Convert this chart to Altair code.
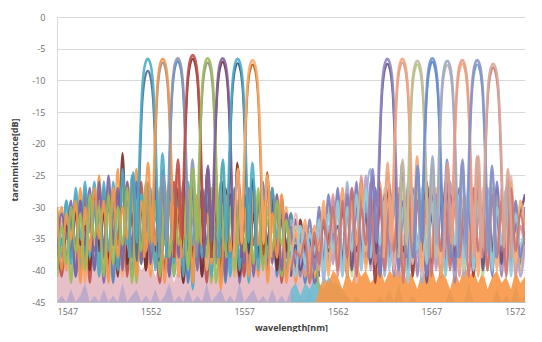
import altair as alt
import pandas as pd

# ---------------- axis ticks ----------------
X_TICKS = [1547, 1552, 1557, 1562, 1567, 1572]
Y_TICKS = [0, -5, -10, -15, -20, -25, -30, -35, -40, -45]

# ---------------- channel passbands ----------------
LEFT_CENTERS = [1551.85, 1552.65, 1553.45, 1554.25, 1555.05, 1555.85, 1556.65, 1557.45]
RIGHT_CENTERS = [1564.65, 1565.45, 1566.25, 1567.05, 1567.85, 1568.65, 1569.45, 1570.3]
LEFT_PEAKS = [-6.6, -6.6, -6.5, -6.0, -6.5, -6.5, -6.6, -6.8]
LEFT_PEAKS_2 = [-8.5, -7.2, -7.0, -6.6, -7.2, -7.1, -7.3, -7.5]
RIGHT_PEAKS = [-6.6, -6.6, -6.9, -6.5, -6.9, -6.8, -6.8, -7.4]
RIGHT_PEAKS_2 = [-7.4, -7.2, -7.5, -7.1, -7.6, -7.4, -7.5, -8.0]
MAIN_OFFSETS = [-0.58, -0.5, -0.43, -0.36, -0.28, -0.19, -0.1, 0.0, 0.1, 0.19, 0.28, 0.36, 0.43, 0.5, 0.58]
MAIN_DROP = [29, 21, 14, 8.5, 3.9, 1.5, 0.4, 0, 0.4, 1.5, 3.9, 8.5, 14, 21, 29]
MAIN_DROP_2 = [30, 23, 16, 9.5, 4.5, 1.8, 0.5, 0, 0.5, 1.8, 4.5, 9.5, 16, 23, 30]
SIDE_L_OFFSETS = [-1.0, -0.78]
SIDE_R_OFFSETS = [0.78, 1.0]
EDGE_DB = -38
LEFT_SL_L = [-24.5, -23, -25, -22.5, -24, -23.5, -22.5, -24]
LEFT_SL_R = [-21.5, -24, -22.5, -25, -23, -24.5, -23, -25]
LEFT_SL2_L = [-25, -26, -24, -27, -25.5, -24, -26, -23.5]
LEFT_SL2_R = [-26, -24.5, -27, -24, -26, -23, -25.5, -24.5]
RIGHT_SL_L = [-24, -23, -22.5, -23.5, -22, -23, -22.5, -22]
RIGHT_SL_R = [-23, -22, -23.5, -22.5, -23, -22, -23.5, -24]
RIGHT_SL2_L = [-25, -24.5, -26, -24, -25.5, -24, -25, -24.5]
RIGHT_SL2_R = [-24.5, -25.5, -24, -26, -24.5, -25, -24, -25.5]

LEFT_COLORS = ["#4BACC6", "#F79646", "#8797B2", "#C0504D", "#9BBB59", "#8064A2", "#4BACC6", "#F9AB6B"]
LEFT_COLORS_2 = ["#4F6D8F", "#7F8FA6", "#4F81BD", "#772C2A", "#8C8C8C", "#772C2A", "#2C4D75", "#B65708"]
RIGHT_COLORS = ["#8E86C2", "#F2A47A", "#C4B99A", "#6F8FCF", "#A0A8C0", "#E89A8A", "#8A94C8", "#D6A89A"]
RIGHT_COLORS_2 = ["#664F83", "#D99694", "#AFC97A", "#4F81BD", "#B7B7B7", "#F9AB6B", "#729ACA", "#CD7371"]

# ---------------- out-of-band ripple (left: 1547.00..1561.00, right: 1559.50..1572.00, 0.25 nm) ----------------
LEFT_GRID = [round(1547.0 + 0.25 * i, 2) for i in range(57)]
RIGHT_GRID = [round(1559.5 + 0.25 * i, 2) for i in range(51)]

NL1 = [-31, -38, -29, -36, -28, -40, -27, -34, -26, -39,
       -28, -41, -26, -35, -27, -40, -25, -31, -39, -29,
       -40, -27, -37, -30, -28, -41, -31, -38, -27, -43,
       -30, -37, -28, -40, -33, -36, -29, -41, -32, -38,
       -30, -42, -28, -37, -31, -39, -29, -36, -32, -40,
       -33, -38, -34, -41, -36, -40, -38]
NL2 = [-36, -30, -39, -31, -37, -27, -41, -29, -36, -25,
       -40, -27, -37, -24, -39, -26, -33, -24, -38, -30,
       -41, -28, -37, -26, -40, -29, -33, -38, -29, -42,
       -32, -39, -27, -36, -30, -43, -31, -37, -28, -40,
       -33, -38, -29, -41, -30, -36, -32, -39, -28, -37,
       -31, -42, -33, -39, -35, -41, -37]
NL3 = [-34, -41, -32, -37, -30, -38, -28, -42, -30, -36,
       -27, -39, -30, -36, -25, -41, -28, -37, -26, -40,
       -29, -35, -42, -28, -38, -26, -41, -30, -36, -27,
       -38, -31, -42, -29, -37, -31, -40, -28, -38, -33,
       -41, -29, -36, -30, -39, -27, -38, -30, -42, -31,
       -36, -33, -40, -35, -39, -37, -41]
NL4 = [-38, -33, -40, -30, -36, -29, -39, -31, -37, -28,
       -42, -29, -35, -27, -40, -30, -36, -26, -39, -28,
       -37, -27, -40, -33, -27, -39, -29, -42, -27, -37,
       -30, -41, -26, -36, -29, -41, -30, -38, -27, -42,
       -32, -39, -29, -37, -31, -40, -28, -39, -32, -38,
       -34, -40, -35, -39, -37, -42, -39]
NL5 = [-33, -37, -31, -42, -29, -38, -32, -36, -29, -41,
       -30, -37, -28, -40, -27, -36, -29, -42, -28, -35,
       -31, -39, -28, -36, -30, -41, -27, -37, -29, -40,
       -28, -38, -31, -42, -27, -37, -38, -30, -41, -29,
       -36, -31, -40, -28, -37, -32, -38, -30, -41, -33,
       -37, -35, -40, -36, -41, -38, -40]
NL6 = [-40, -35, -38, -32, -41, -30, -37, -29, -40, -31,
       -36, -30, -42, -28, -37, -29, -41, -30, -36, -27,
       -39, -31, -36, -28, -41, -30, -37, -29, -42, -31,
       -38, -27, -40, -30, -36, -28, -42, -29, -39, -33,
       -28, -40, -31, -37, -26, -39, -30, -41, -29, -36,
       -32, -39, -33, -42, -35, -38, -37]
NL7 = [-35, -40, -33, -38, -31, -36, -33, -40, -28, -37,
       -31, -38, -29, -41, -21.5, -39, -31, -36, -30, -40,
       -28, -37, -32, -40, -29, -36, -31, -42, -28, -38,
       -30, -41, -29, -37, -31, -40, -27, -38, -30, -41,
       -29, -37, -31, -38, -29, -36, -27, -40, -30, -37,
       -31, -40, -32, -38, -34, -39, -36]
NL8 = [-37, -32, -40, -34, -38, -31, -42, -30, -36, -29,
       -39, -31, -37, -29, -41, -30, -38, -32, -35, -28,
       -40, -30, -37, -29, -36, -31, -41, -28, -39, -30,
       -37, -28, -40, -31, -38, -30, -36, -29, -41, -27,
       -38, -29, -40, -31, -36, -28, -34, -28, -39, -30,
       -40, -32, -41, -33, -39, -35, -40]
NL9 = [-30, -36, -29, -39, -27, -35, -26, -38, -29, -41,
       -26, -37, -29, -40, -24, -36, -27, -39, -28, -34,
       -27, -40, -29, -35, -26, -39, -28, -41, -26, -36,
       -29, -38, -26, -41, -28, -35, -30, -39, -27, -40,
       -28, -37, -26, -40, -29, -38, -27, -35, -30, -41,
       -31, -38, -33, -40, -34, -39, -36]
NL10 = [-37, -31, -35, -29, -41, -29, -36, -27, -40, -26,
        -38, -25, -36, -28, -40, -26, -38, -27, -36, -29,
        -39, -26, -35, -29, -41, -27, -38, -26, -37, -28,
        -40, -27, -36, -29, -39, -26, -41, -28, -35, -30,
        -39, -27, -41, -29, -37, -26, -39, -28, -40, -31,
        -38, -32, -39, -34, -40, -36, -41]
NL11 = [-30, -40, -31, -35, -29, -42, -30, -37, -27, -35,
        -29, -42, -27, -38, -30, -35, -26, -41, -29, -37,
        -30, -36, -27, -42, -29, -38, -30, -35, -27, -40,
        -28, -36, -31, -39, -26, -42, -28, -37, -31, -36,
        -30, -41, -27, -36, -29, -42, -31, -38, -28, -42,
        -33, -37, -35, -41, -34, -38, -40]
NL12 = [-41, -33, -39, -30, -37, -31, -40, -28, -35, -30,
        -41, -28, -39, -30, -36, -27, -42, -30, -37, -26,
        -36, -29, -41, -27, -38, -30, -36, -28, -40, -29,
        -36, -30, -38, -27, -42, -29, -37, -30, -40, -28,
        -37, -30, -39, -27, -40, -30, -37, -29, -36, -32,
        -39, -34, -38, -37, -42, -38, -43]

NR1 = [-38, -35, -41, -36, -40, -34, -38, -31, -39, -29,
       -36, -28, -40, -27, -35, -29, -38, -26, -40, -28,
       -37, -29, -41, -27, -38, -30, -28, -41, -30, -37,
       -27, -39, -31, -36, -28, -42, -30, -37, -29, -40,
       -31, -38, -28, -36, -30, -41, -29, -37, -33, -39,
       -35]
NR2 = [-34, -40, -36, -41, -37, -33, -40, -30, -36, -28,
       -41, -27, -37, -30, -39, -25, -36, -29, -40, -27,
       -38, -26, -40, -29, -36, -27, -41, -28, -35, -27,
       -40, -29, -37, -26, -39, -30, -41, -28, -36, -27,
       -38, -30, -40, -28, -37, -31, -39, -29, -41, -33,
       -37]
NR3 = [-32, -37, -33, -40, -35, -38, -31, -42, -29, -37,
       -28, -39, -26, -36, -27, -40, -29, -24, -37, -28,
       -41, -30, -36, -28, -40, -26, -38, -29, -42, -27,
       -28, -38, -27, -40, -26, -37, -29, -41, -28, -36,
       -30, -39, -27, -38, -31, -36, -28, -40, -30, -37,
       -32]
NR4 = [-36, -39, -34, -37, -39, -36, -33, -38, -35, -31,
       -38, -30, -41, -28, -37, -26, -39, -30, -42, -29,
       -36, -27, -40, -31, -37, -29, -41, -28, -37, -26,
       -39, -28, -41, -27, -36, -39, -27, -37, -30, -41,
       -28, -36, -31, -40, -27, -38, -29, -37, -31, -39,
       -34]
NR5 = [-40, -33, -37, -35, -41, -37, -35, -40, -30, -38,
       -31, -37, -29, -41, -30, -38, -28, -36, -31, -40,
       -27, -38, -30, -36, -28, -41, -30, -37, -29, -40,
       -26, -39, -28, -41, -27, -36, -30, -40, -29, -37,
       -27, -41, -30, -38, -28, -36, -31, -39, -29, -40,
       -31]
NR6 = [-35, -38, -39, -33, -36, -40, -34, -37, -33, -39,
       -29, -41, -27, -38, -31, -36, -25, -40, -28, -37,
       -30, -39, -27, -41, -29, -36, -28, -38, -30, -37,
       -27, -40, -29, -37, -26, -41, -28, -38, -27, -40,
       -28, -39, -27, -36, -30, -40, -28, -38, -32, -41,
       -36]
NR7 = [-37, -31, -36, -38, -34, -39, -33, -36, -40, -32,
       -38, -32, -36, -29, -42, -30, -37, -28, -39, -26,
       -37, -29, -40, -28, -36, -31, -39, -27, -41, -30,
       -36, -28, -39, -30, -37, -27, -40, -29, -38, -28,
       -39, -27, -37, -30, -38, -27, -39, -25, -36, -30,
       -29]
NR8 = [-41, -36, -40, -37, -35, -38, -36, -33, -37, -35,
       -33, -38, -30, -40, -29, -37, -31, -39, -27, -41,
       -30, -38, -28, -36, -31, -40, -29, -37, -28, -42,
       -31, -37, -29, -40, -28, -38, -30, -36, -29, -39,
       -28, -40, -29, -37, -30, -39, -27, -36, -33, -31,
       -28]
NR9 = [-33, -39, -35, -38, -32, -40, -30, -39, -28, -36,
       -27, -40, -28, -37, -26, -39, -29, -36, -27, -41,
       -28, -37, -26, -40, -29, -38, -27, -36, -30, -41,
       -28, -37, -26, -39, -29, -40, -27, -36, -30, -39,
       -27, -38, -29, -41, -26, -37, -30, -39, -29, -38,
       -30]
NR10 = [-39, -34, -37, -32, -40, -33, -37, -29, -41, -30,
        -38, -27, -41, -29, -36, -26, -40, -28, -37, -26,
        -39, -28, -36, -27, -41, -29, -37, -26, -40, -28,
        -38, -27, -41, -29, -36, -26, -40, -28, -37, -27,
        -41, -29, -36, -27, -40, -28, -37, -26, -39, -29,
        -34]
NR11 = [-36, -41, -33, -39, -34, -37, -32, -40, -31, -37,
        -29, -41, -30, -37, -28, -40, -27, -38, -30, -36,
        -29, -40, -27, -37, -30, -42, -28, -37, -27, -39,
        -29, -38, -27, -41, -30, -36, -28, -39, -26, -40,
        -29, -37, -28, -40, -30, -36, -27, -41, -31, -36,
        -33]
NR12 = [-40, -37, -38, -35, -42, -34, -39, -32, -36, -30,
        -40, -29, -38, -27, -41, -30, -36, -28, -39, -27,
        -40, -30, -37, -28, -42, -27, -38, -29, -36, -28,
        -41, -28, -37, -29, -40, -27, -38, -30, -41, -27,
        -37, -30, -40, -28, -38, -29, -41, -27, -37, -31,
        -36]

LEFT_NOISE_COLORS = ["#4BACC6", "#F79646", "#C0504D", "#8064A2", "#9BBB59", "#4F81BD",
                     "#772C2A", "#F9AB6B", "#4BACC6", "#8064A2", "#F79646", "#9BBB59"]
RIGHT_NOISE_COLORS = ["#9983B5", "#D99694", "#95B3D7", "#9F3B38", "#C3D69B", "#B3A2C7",
                      "#E6B9B8", "#664F83", "#7F7FBF", "#F9AB6B", "#93CDDD", "#CD7371"]

# ---------------- noise floor (filled) ----------------
FLOOR_PINK = [-31, -34, -35, -37, -36, -38, -37, -39, -38, -40,
              -37, -39, -38, -41, -37, -40, -39, -38, -40, -39,
              -38, -41, -39, -40, -38, -42, -39, -40, -38, -41,
              -39, -40, -38, -41, -40, -39, -41, -38, -40, -39,
              -38, -41, -39, -40, -38, -40, -39, -41, -38, -40,
              -39, -38, -40, -39, -41, -40, -42]
FLOOR_LAV = [-45, -44, -45, -43, -45, -44, -42, -45, -44, -45,
             -43, -45, -44, -45, -42, -45, -44, -43, -45, -44,
             -45, -43, -45, -44, -42, -45, -44, -45, -43, -45,
             -44, -45, -42, -45, -44, -43, -45, -44, -45, -42,
             -45, -44, -43, -45, -44, -45, -43, -45, -44, -45,
             -43, -45, -44, -45, -43, -45, -45]
FLOOR_TEAL = [-43, -42, -44, -42, -43, -41, -42, -43, -41, -42,
              -42, -43, -44, -45, -44, -45, -45, -45, -45, -44,
              -45, -43, -45, -42, -45, -45, -44, -45, -45, -45,
              -45, -45, -45, -45, -43, -45, -45, -45, -42, -45,
              -45, -45, -45, -45, -43, -45, -44, -45, -42, -45,
              -44]
FLOOR_ORANGE = [-46, -46, -46, -46, -46, -46, -43, -41, -42, -40,
                -41, -43, -40, -42, -39, -41, -40, -42, -41, -39,
                -42, -40, -41, -39, -42, -40, -41, -43, -40, -41,
                -39, -42, -40, -41, -43, -40, -42, -39, -41, -40,
                -42, -40, -43, -41, -40, -42, -41, -43, -40, -42,
                -41]

# ---------------- build table ----------------
rows = []
names, colors = [], []


def add(name, color, group, xs, ys):
    names.append(name)
    colors.append(color)
    for x, y in zip(xs, ys):
        rows.append({"wl": x, "db": y, "series": name, "group": group, "base": -45})


add("floor_pink", "#E3B8C3", "floor", LEFT_GRID, FLOOR_PINK)
add("floor_lav", "#B9A8CC", "floor", LEFT_GRID, FLOOR_LAV)
add("floor_teal", "#6FBDD1", "floor", RIGHT_GRID, FLOOR_TEAL)
add("floor_orange", "#F79646", "floor", RIGHT_GRID, FLOOR_ORANGE)

LEFT_NOISE = [NL1, NL2, NL3, NL4, NL5, NL6, NL7, NL8, NL9, NL10, NL11, NL12]
RIGHT_NOISE = [NR1, NR2, NR3, NR4, NR5, NR6, NR7, NR8, NR9, NR10, NR11, NR12]
for k, vals in enumerate(LEFT_NOISE):
    add(f"nl{k}", LEFT_NOISE_COLORS[k], "noise", LEFT_GRID, vals)
for k, vals in enumerate(RIGHT_NOISE):
    add(f"nr{k}", RIGHT_NOISE_COLORS[k], "noise", RIGHT_GRID, vals)


def channel(name, color, group, c, peak, drops, sl_l, sl_r):
    xs = [c + o for o in SIDE_L_OFFSETS] + [c + o for o in MAIN_OFFSETS] + [c + o for o in SIDE_R_OFFSETS]
    ys = [EDGE_DB, sl_l] + [peak - d for d in drops] + [sl_r, EDGE_DB]
    add(name, color, group, xs, ys)


for k in range(8):
    channel(f"l2_{k}", LEFT_COLORS_2[k], "ch2", LEFT_CENTERS[k], LEFT_PEAKS_2[k], MAIN_DROP_2, LEFT_SL2_L[k], LEFT_SL2_R[k])
    channel(f"r2_{k}", RIGHT_COLORS_2[k], "ch2", RIGHT_CENTERS[k], RIGHT_PEAKS_2[k], MAIN_DROP_2, RIGHT_SL2_L[k], RIGHT_SL2_R[k])
for k in range(8):
    channel(f"l1_{k}", LEFT_COLORS[k], "ch1", LEFT_CENTERS[k], LEFT_PEAKS[k], MAIN_DROP, LEFT_SL_L[k], LEFT_SL_R[k])
    channel(f"r1_{k}", RIGHT_COLORS[k], "ch1", RIGHT_CENTERS[k], RIGHT_PEAKS[k], MAIN_DROP, RIGHT_SL_L[k], RIGHT_SL_R[k])

df = pd.DataFrame(rows)

FONT = "Open Sans"
x_enc = alt.X(
    "wl:Q",
    scale=alt.Scale(domain=[1547, 1572], nice=False, zero=False),
    axis=alt.Axis(
        values=X_TICKS, labelExpr="'' + datum.value", title="wavelength[nm]",
        grid=False, ticks=False, domainColor="#BFBFBF", labelPadding=5,
        labelFont=FONT, labelFontSize=9, labelColor="#6E6E6E",
        titleFont=FONT, titleFontSize=9, titleFontWeight="bold", titleColor="#404040",
        titleBaseline="middle", titleY=25,
    ),
)
y_enc = alt.Y(
    "db:Q",
    stack=False,
    scale=alt.Scale(domain=[-45, 0], nice=False, zero=False),
    axis=alt.Axis(
        values=Y_TICKS, labelExpr="'' + datum.value", title="taranmittance[dB]",
        grid=True, gridColor="#D9D9D9", ticks=False, domainColor="#D9D9D9", labelPadding=12,
        labelFont=FONT, labelFontSize=9, labelColor="#6E6E6E",
        titleFont=FONT, titleFontSize=9, titleFontWeight="bold", titleColor="#404040",
        titleX=-38,
    ),
)
color_enc = alt.Color("series:N", scale=alt.Scale(domain=names, range=colors), legend=None)

base = alt.Chart(df)
floors = base.transform_filter("datum.group == 'floor'").mark_area(clip=True, opacity=0.9).encode(
    x=x_enc, y=y_enc, y2="base:Q", color=color_enc
)
noise = base.transform_filter("datum.group == 'noise'").mark_line(
    clip=True, strokeWidth=2.3, interpolate="monotone", opacity=0.9
).encode(x=x_enc, y=y_enc, color=color_enc)
ch2 = base.transform_filter("datum.group == 'ch2'").mark_line(
    clip=True, strokeWidth=2.2, interpolate="monotone", opacity=0.9
).encode(x=x_enc, y=y_enc, color=color_enc)
ch1 = base.transform_filter("datum.group == 'ch1'").mark_line(
    clip=True, strokeWidth=2.5, interpolate="monotone", opacity=0.9
).encode(x=x_enc, y=y_enc, color=color_enc)

chart = alt.layer(floors, noise, ch2, ch1).properties(
    width=468, height=285,
    autosize=alt.AutoSizeParams(type="none"),
    padding={"left": 49, "top": 9, "right": 9, "bottom": 30},
    background="white",
).configure_view(stroke=None)

chart.save("out.html", embed_options={"renderer": "svg", "actions": False})
